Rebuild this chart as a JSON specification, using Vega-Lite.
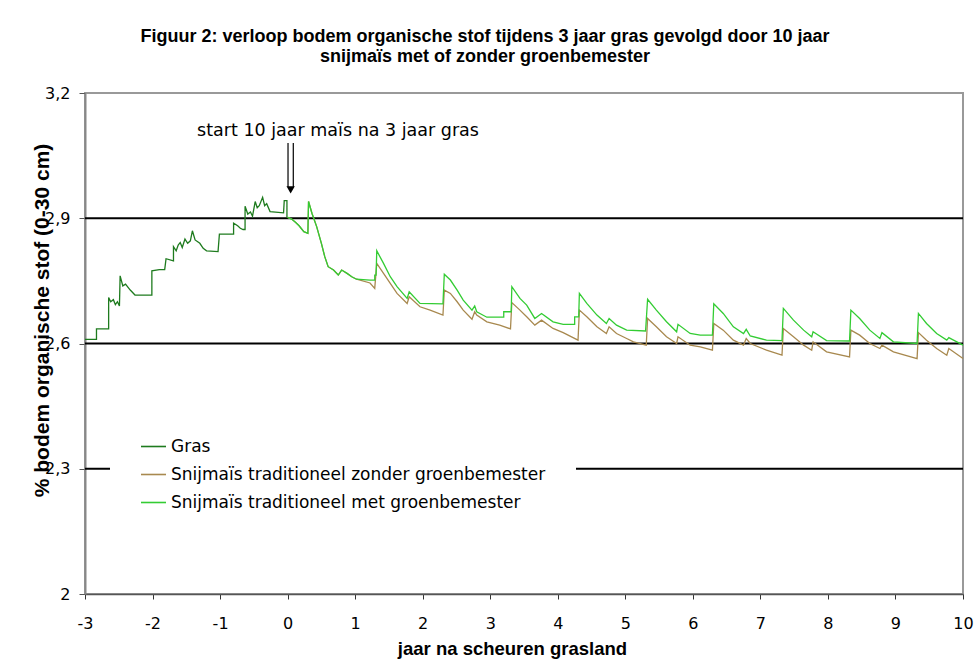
{
  "$schema": "https://vega.github.io/schema/vega-lite/v6.json",
  "width": 878,
  "height": 501,
  "autosize": {"type": "none"},
  "padding": {"left": 85, "top": 93, "right": 16, "bottom": 70},
  "background": "white",
  "config": {"view": {"stroke": "#999999", "strokeWidth": 2}, "font": "DejaVu Sans"},
  "title": {
    "text": ["Figuur 2: verloop bodem organische stof tijdens 3 jaar gras gevolgd door 10 jaar", "snijmaïs met of zonder groenbemester"],
    "font": "Liberation Sans", "fontSize": 18, "fontWeight": "bold", "color": "black",
    "anchor": "middle", "frame": "group", "dx": -39, "offset": 19, "lineHeight": 20
  },
  "datasets": {
    "grid": [{"y": 2.3}, {"y": 2.6}, {"y": 2.9}],
    "note": [{"x": 0.746, "y": 3.109, "t": "start 10 jaar maïs na 3 jaar gras"}],
    "shaft": [{"x": 0.006, "y": 3.08, "y2": 2.975}, {"x": 0.084, "y": 3.08, "y2": 2.975}],
    "head": [{"x": 0.045, "y": 2.968}],
    "lines": [
      {"s":"G","o":0,"x":-3.00,"y":2.610},{"s":"G","o":1,"x":-2.83,"y":2.610},{"s":"G","o":2,"x":-2.83,"y":2.635},{"s":"G","o":3,"x":-2.65,"y":2.635},
      {"s":"G","o":4,"x":-2.65,"y":2.710},{"s":"G","o":5,"x":-2.62,"y":2.700},{"s":"G","o":6,"x":-2.58,"y":2.705},{"s":"G","o":7,"x":-2.55,"y":2.693},
      {"s":"G","o":8,"x":-2.52,"y":2.700},{"s":"G","o":9,"x":-2.49,"y":2.690},{"s":"G","o":10,"x":-2.48,"y":2.762},{"s":"G","o":11,"x":-2.44,"y":2.738},
      {"s":"G","o":12,"x":-2.40,"y":2.742},{"s":"G","o":13,"x":-2.33,"y":2.728},{"s":"G","o":14,"x":-2.26,"y":2.716},{"s":"G","o":15,"x":-2.01,"y":2.716},
      {"s":"G","o":16,"x":-2.01,"y":2.774},{"s":"G","o":17,"x":-1.90,"y":2.777},{"s":"G","o":18,"x":-1.82,"y":2.777},{"s":"G","o":19,"x":-1.80,"y":2.803},
      {"s":"G","o":20,"x":-1.69,"y":2.798},{"s":"G","o":21,"x":-1.69,"y":2.832},{"s":"G","o":22,"x":-1.65,"y":2.822},{"s":"G","o":23,"x":-1.62,"y":2.836},
      {"s":"G","o":24,"x":-1.59,"y":2.842},{"s":"G","o":25,"x":-1.56,"y":2.830},{"s":"G","o":26,"x":-1.52,"y":2.850},{"s":"G","o":27,"x":-1.48,"y":2.840},
      {"s":"G","o":28,"x":-1.44,"y":2.846},{"s":"G","o":29,"x":-1.41,"y":2.870},{"s":"G","o":30,"x":-1.37,"y":2.848},{"s":"G","o":31,"x":-1.30,"y":2.840},
      {"s":"G","o":32,"x":-1.25,"y":2.828},{"s":"G","o":33,"x":-1.20,"y":2.822},{"s":"G","o":34,"x":-1.03,"y":2.820},{"s":"G","o":35,"x":-1.01,"y":2.862},
      {"s":"G","o":36,"x":-0.80,"y":2.862},{"s":"G","o":37,"x":-0.80,"y":2.888},{"s":"G","o":38,"x":-0.74,"y":2.882},{"s":"G","o":39,"x":-0.70,"y":2.876},
      {"s":"G","o":40,"x":-0.66,"y":2.873},{"s":"G","o":41,"x":-0.63,"y":2.873},{"s":"G","o":42,"x":-0.63,"y":2.929},{"s":"G","o":43,"x":-0.59,"y":2.910},
      {"s":"G","o":44,"x":-0.55,"y":2.915},{"s":"G","o":45,"x":-0.52,"y":2.905},{"s":"G","o":46,"x":-0.48,"y":2.940},{"s":"G","o":47,"x":-0.45,"y":2.925},
      {"s":"G","o":48,"x":-0.42,"y":2.930},{"s":"G","o":49,"x":-0.37,"y":2.950},{"s":"G","o":50,"x":-0.34,"y":2.930},{"s":"G","o":51,"x":-0.31,"y":2.935},
      {"s":"G","o":52,"x":-0.26,"y":2.916},{"s":"G","o":53,"x":-0.06,"y":2.913},{"s":"G","o":54,"x":-0.05,"y":2.942},{"s":"G","o":55,"x":-0.01,"y":2.942},
      {"s":"G","o":56,"x":-0.01,"y":2.902},

      {"s":"Z","o":0,"x":0.00,"y":2.902},{"s":"Z","o":1,"x":0.06,"y":2.898},{"s":"Z","o":2,"x":0.12,"y":2.890},{"s":"Z","o":3,"x":0.17,"y":2.882},
      {"s":"Z","o":4,"x":0.24,"y":2.868},{"s":"Z","o":5,"x":0.30,"y":2.864},{"s":"Z","o":6,"x":0.31,"y":2.940},{"s":"Z","o":7,"x":0.36,"y":2.912},
      {"s":"Z","o":8,"x":0.43,"y":2.880},{"s":"Z","o":9,"x":0.50,"y":2.840},{"s":"Z","o":10,"x":0.55,"y":2.808},{"s":"Z","o":11,"x":0.60,"y":2.784},
      {"s":"Z","o":12,"x":0.68,"y":2.776},{"s":"Z","o":13,"x":0.75,"y":2.764},{"s":"Z","o":14,"x":0.80,"y":2.776},{"s":"Z","o":15,"x":0.88,"y":2.768},
      {"s":"Z","o":16,"x":0.95,"y":2.760},{"s":"Z","o":17,"x":1.02,"y":2.754},
      {"s":"Z","o":18,"x":1.22,"y":2.745},{"s":"Z","o":19,"x":1.29,"y":2.732},{"s":"Z","o":20,"x":1.32,"y":2.792},{"s":"Z","o":21,"x":1.42,"y":2.768},
      {"s":"Z","o":22,"x":1.52,"y":2.744},{"s":"Z","o":23,"x":1.62,"y":2.720},{"s":"Z","o":24,"x":1.77,"y":2.696},{"s":"Z","o":25,"x":1.80,"y":2.712},
      {"s":"Z","o":26,"x":1.96,"y":2.688},{"s":"Z","o":27,"x":2.11,"y":2.680},{"s":"Z","o":28,"x":2.30,"y":2.668},{"s":"Z","o":29,"x":2.32,"y":2.728},
      {"s":"Z","o":30,"x":2.41,"y":2.720},{"s":"Z","o":31,"x":2.51,"y":2.700},{"s":"Z","o":32,"x":2.60,"y":2.680},{"s":"Z","o":33,"x":2.73,"y":2.658},
      {"s":"Z","o":34,"x":2.77,"y":2.676},{"s":"Z","o":35,"x":2.80,"y":2.668},{"s":"Z","o":36,"x":2.95,"y":2.652},{"s":"Z","o":37,"x":3.14,"y":2.644},
      {"s":"Z","o":38,"x":3.30,"y":2.635},{"s":"Z","o":39,"x":3.32,"y":2.698},{"s":"Z","o":40,"x":3.44,"y":2.680},{"s":"Z","o":41,"x":3.54,"y":2.664},
      {"s":"Z","o":42,"x":3.66,"y":2.644},{"s":"Z","o":43,"x":3.76,"y":2.656},{"s":"Z","o":44,"x":3.93,"y":2.636},{"s":"Z","o":45,"x":4.08,"y":2.626},
      {"s":"Z","o":46,"x":4.30,"y":2.608},{"s":"Z","o":47,"x":4.32,"y":2.680},{"s":"Z","o":48,"x":4.43,"y":2.664},{"s":"Z","o":49,"x":4.58,"y":2.640},
      {"s":"Z","o":50,"x":4.72,"y":2.624},{"s":"Z","o":51,"x":4.76,"y":2.640},{"s":"Z","o":52,"x":4.87,"y":2.624},{"s":"Z","o":53,"x":5.02,"y":2.612},
      {"s":"Z","o":54,"x":5.12,"y":2.604},{"s":"Z","o":55,"x":5.31,"y":2.596},{"s":"Z","o":56,"x":5.33,"y":2.660},{"s":"Z","o":57,"x":5.46,"y":2.640},
      {"s":"Z","o":58,"x":5.61,"y":2.616},{"s":"Z","o":59,"x":5.76,"y":2.600},{"s":"Z","o":60,"x":5.78,"y":2.616},{"s":"Z","o":61,"x":5.96,"y":2.596},
      {"s":"Z","o":62,"x":6.11,"y":2.592},{"s":"Z","o":63,"x":6.29,"y":2.584},{"s":"Z","o":64,"x":6.31,"y":2.648},{"s":"Z","o":65,"x":6.45,"y":2.632},
      {"s":"Z","o":66,"x":6.60,"y":2.608},{"s":"Z","o":67,"x":6.75,"y":2.596},{"s":"Z","o":68,"x":6.79,"y":2.612},{"s":"Z","o":69,"x":6.85,"y":2.600},
      {"s":"Z","o":70,"x":7.09,"y":2.584},{"s":"Z","o":71,"x":7.32,"y":2.572},{"s":"Z","o":72,"x":7.34,"y":2.636},{"s":"Z","o":73,"x":7.49,"y":2.616},
      {"s":"Z","o":74,"x":7.64,"y":2.596},{"s":"Z","o":75,"x":7.76,"y":2.584},{"s":"Z","o":76,"x":7.78,"y":2.604},{"s":"Z","o":77,"x":7.98,"y":2.580},
      {"s":"Z","o":78,"x":8.32,"y":2.568},{"s":"Z","o":79,"x":8.34,"y":2.632},{"s":"Z","o":80,"x":8.47,"y":2.620},{"s":"Z","o":81,"x":8.62,"y":2.600},
      {"s":"Z","o":82,"x":8.77,"y":2.588},{"s":"Z","o":83,"x":8.80,"y":2.596},{"s":"Z","o":84,"x":8.97,"y":2.580},{"s":"Z","o":85,"x":9.32,"y":2.564},
      {"s":"Z","o":86,"x":9.34,"y":2.626},{"s":"Z","o":87,"x":9.46,"y":2.608},{"s":"Z","o":88,"x":9.61,"y":2.588},{"s":"Z","o":89,"x":9.76,"y":2.572},
      {"s":"Z","o":90,"x":9.79,"y":2.588},{"s":"Z","o":91,"x":10.0,"y":2.564},

      {"s":"M","o":0,"x":0.00,"y":2.902},{"s":"M","o":1,"x":0.06,"y":2.898},{"s":"M","o":2,"x":0.12,"y":2.890},{"s":"M","o":3,"x":0.17,"y":2.882},
      {"s":"M","o":4,"x":0.24,"y":2.868},{"s":"M","o":5,"x":0.30,"y":2.864},{"s":"M","o":6,"x":0.31,"y":2.940},{"s":"M","o":7,"x":0.36,"y":2.912},
      {"s":"M","o":8,"x":0.43,"y":2.880},{"s":"M","o":9,"x":0.50,"y":2.840},{"s":"M","o":10,"x":0.55,"y":2.808},{"s":"M","o":11,"x":0.60,"y":2.784},
      {"s":"M","o":12,"x":0.68,"y":2.776},{"s":"M","o":13,"x":0.75,"y":2.764},{"s":"M","o":14,"x":0.80,"y":2.776},{"s":"M","o":15,"x":0.88,"y":2.768},
      {"s":"M","o":16,"x":0.95,"y":2.760},{"s":"M","o":17,"x":1.02,"y":2.754},
      {"s":"M","o":18,"x":1.22,"y":2.752},{"s":"M","o":19,"x":1.29,"y":2.752},{"s":"M","o":20,"x":1.29,"y":2.764},{"s":"M","o":21,"x":1.31,"y":2.764},
      {"s":"M","o":22,"x":1.32,"y":2.822},{"s":"M","o":23,"x":1.42,"y":2.792},{"s":"M","o":24,"x":1.52,"y":2.760},{"s":"M","o":25,"x":1.62,"y":2.736},
      {"s":"M","o":26,"x":1.77,"y":2.708},{"s":"M","o":27,"x":1.80,"y":2.724},{"s":"M","o":28,"x":1.96,"y":2.696},{"s":"M","o":29,"x":2.30,"y":2.695},
      {"s":"M","o":30,"x":2.32,"y":2.766},{"s":"M","o":31,"x":2.41,"y":2.752},{"s":"M","o":32,"x":2.51,"y":2.728},{"s":"M","o":33,"x":2.60,"y":2.704},
      {"s":"M","o":34,"x":2.73,"y":2.680},{"s":"M","o":35,"x":2.77,"y":2.690},{"s":"M","o":36,"x":2.80,"y":2.676},{"s":"M","o":37,"x":2.95,"y":2.663},
      {"s":"M","o":38,"x":3.20,"y":2.663},{"s":"M","o":39,"x":3.20,"y":2.676},{"s":"M","o":40,"x":3.31,"y":2.676},{"s":"M","o":41,"x":3.32,"y":2.736},
      {"s":"M","o":42,"x":3.44,"y":2.708},{"s":"M","o":43,"x":3.54,"y":2.692},{"s":"M","o":44,"x":3.66,"y":2.660},{"s":"M","o":45,"x":3.76,"y":2.672},
      {"s":"M","o":46,"x":3.93,"y":2.652},{"s":"M","o":47,"x":4.08,"y":2.646},{"s":"M","o":48,"x":4.25,"y":2.646},{"s":"M","o":49,"x":4.25,"y":2.664},
      {"s":"M","o":50,"x":4.31,"y":2.664},{"s":"M","o":51,"x":4.32,"y":2.720},{"s":"M","o":52,"x":4.43,"y":2.696},{"s":"M","o":53,"x":4.58,"y":2.668},
      {"s":"M","o":54,"x":4.72,"y":2.648},{"s":"M","o":55,"x":4.76,"y":2.660},{"s":"M","o":56,"x":4.87,"y":2.644},{"s":"M","o":57,"x":5.02,"y":2.632},
      {"s":"M","o":58,"x":5.30,"y":2.630},{"s":"M","o":59,"x":5.33,"y":2.706},{"s":"M","o":60,"x":5.46,"y":2.680},{"s":"M","o":61,"x":5.61,"y":2.652},
      {"s":"M","o":62,"x":5.76,"y":2.628},{"s":"M","o":63,"x":5.78,"y":2.646},{"s":"M","o":64,"x":5.96,"y":2.624},{"s":"M","o":65,"x":6.11,"y":2.620},
      {"s":"M","o":66,"x":6.29,"y":2.620},{"s":"M","o":67,"x":6.31,"y":2.695},{"s":"M","o":68,"x":6.45,"y":2.672},{"s":"M","o":69,"x":6.60,"y":2.640},
      {"s":"M","o":70,"x":6.75,"y":2.624},{"s":"M","o":71,"x":6.79,"y":2.634},{"s":"M","o":72,"x":6.85,"y":2.618},{"s":"M","o":73,"x":7.09,"y":2.608},
      {"s":"M","o":74,"x":7.32,"y":2.607},{"s":"M","o":75,"x":7.34,"y":2.684},{"s":"M","o":76,"x":7.49,"y":2.656},{"s":"M","o":77,"x":7.64,"y":2.632},
      {"s":"M","o":78,"x":7.76,"y":2.616},{"s":"M","o":79,"x":7.78,"y":2.628},{"s":"M","o":80,"x":7.98,"y":2.607},{"s":"M","o":81,"x":8.32,"y":2.606},
      {"s":"M","o":82,"x":8.34,"y":2.680},{"s":"M","o":83,"x":8.47,"y":2.660},{"s":"M","o":84,"x":8.62,"y":2.632},{"s":"M","o":85,"x":8.77,"y":2.612},
      {"s":"M","o":86,"x":8.80,"y":2.626},{"s":"M","o":87,"x":8.97,"y":2.604},{"s":"M","o":88,"x":9.32,"y":2.600},{"s":"M","o":89,"x":9.34,"y":2.672},
      {"s":"M","o":90,"x":9.46,"y":2.648},{"s":"M","o":91,"x":9.61,"y":2.624},{"s":"M","o":92,"x":9.76,"y":2.608},{"s":"M","o":93,"x":9.79,"y":2.614},
      {"s":"M","o":94,"x":10.0,"y":2.596}
    ]
  },
  "layer": [
    {
      "data": {"name": "grid"},
      "mark": {"type": "rule", "color": "black", "strokeWidth": 2},
      "encoding": {"y": {"field": "y", "type": "quantitative", "scale": {"domain": [2, 3.2], "nice": false, "zero": false}}}
    },
    {
      "data": {"name": "lines"},
      "mark": {"type": "line", "strokeWidth": 1.3},
      "encoding": {
        "x": {
          "field": "x", "type": "quantitative",
          "scale": {"domain": [-3, 10], "nice": false, "zero": false},
          "axis": {
            "values": [-3, -2, -1, 0, 1, 2, 3, 4, 5, 6, 7, 8, 9, 10],
            "labelExpr": "'' + datum.value",
            "grid": false, "tickSize": 5, "tickColor": "#333333", "domainColor": "#555555", "domainWidth": 1.5,
            "labelFont": "DejaVu Sans", "labelFontSize": 16, "labelColor": "black", "labelPadding": 16, "labelFlush": false,
            "title": "jaar na scheuren grasland", "titleFont": "Liberation Sans", "titleFontSize": 18.5, "titleFontWeight": "bold",
            "titleColor": "black", "titleX": 427, "titleY": 54, "titleAlign": "center", "titleBaseline": "middle"
          }
        },
        "y": {
          "field": "y", "type": "quantitative",
          "scale": {"domain": [2, 3.2], "nice": false, "zero": false},
          "axis": {
            "values": [2, 2.3, 2.6, 2.9, 3.2],
            "labelExpr": "replace(format(datum.value, '~g'), '.', ',')",
            "grid": false, "tickSize": 6, "tickColor": "#555555", "domainColor": "#888888", "domainWidth": 2,
            "labelFont": "DejaVu Sans", "labelFontSize": 16, "labelColor": "black", "labelPadding": 9, "labelFlush": false,
            "title": "% bodem organische stof (0-30 cm)", "titleFont": "Liberation Sans", "titleFontSize": 21, "titleFontWeight": "bold",
            "titleColor": "black", "titleAngle": -90, "titleX": -43, "titleY": 227, "titleAlign": "center", "titleBaseline": "middle"
          }
        },
        "color": {
          "field": "s", "type": "nominal",
          "scale": {"domain": ["G", "Z", "M"], "range": ["#1e7b1e", "#a8894f", "#33cc33"]},
          "legend": {
            "orient": "none", "legendX": 25, "legendY": 310, "title": null,
            "fillColor": "white", "padding": 30, "symbolType": "stroke", "symbolSize": 625, "symbolStrokeWidth": 1.6,
            "rowPadding": 6, "labelFont": "DejaVu Sans", "labelFontSize": 17, "labelColor": "black", "labelOffset": 4, "labelLimit": 600,
            "labelExpr": "datum.label == 'G' ? 'Gras' : datum.label == 'Z' ? 'Snijmaïs traditioneel zonder groenbemester' : 'Snijmaïs traditioneel met groenbemester'"
          }
        },
        "order": {"field": "o", "type": "quantitative"}
      }
    },
    {
      "data": {"name": "note"},
      "mark": {"type": "text", "font": "DejaVu Sans", "fontSize": 17.5, "color": "black", "align": "center", "baseline": "middle"},
      "encoding": {
        "x": {"field": "x", "type": "quantitative"},
        "y": {"field": "y", "type": "quantitative"},
        "text": {"field": "t"}
      }
    },
    {
      "data": {"name": "shaft"},
      "mark": {"type": "rule", "color": "black", "strokeWidth": 1.2},
      "encoding": {
        "x": {"field": "x", "type": "quantitative"},
        "y": {"field": "y", "type": "quantitative"},
        "y2": {"field": "y2"}
      }
    },
    {
      "data": {"name": "head"},
      "mark": {"type": "point", "shape": "triangle-down", "filled": true, "color": "black", "size": 70, "opacity": 1},
      "encoding": {
        "x": {"field": "x", "type": "quantitative"},
        "y": {"field": "y", "type": "quantitative"}
      }
    }
  ]
}
